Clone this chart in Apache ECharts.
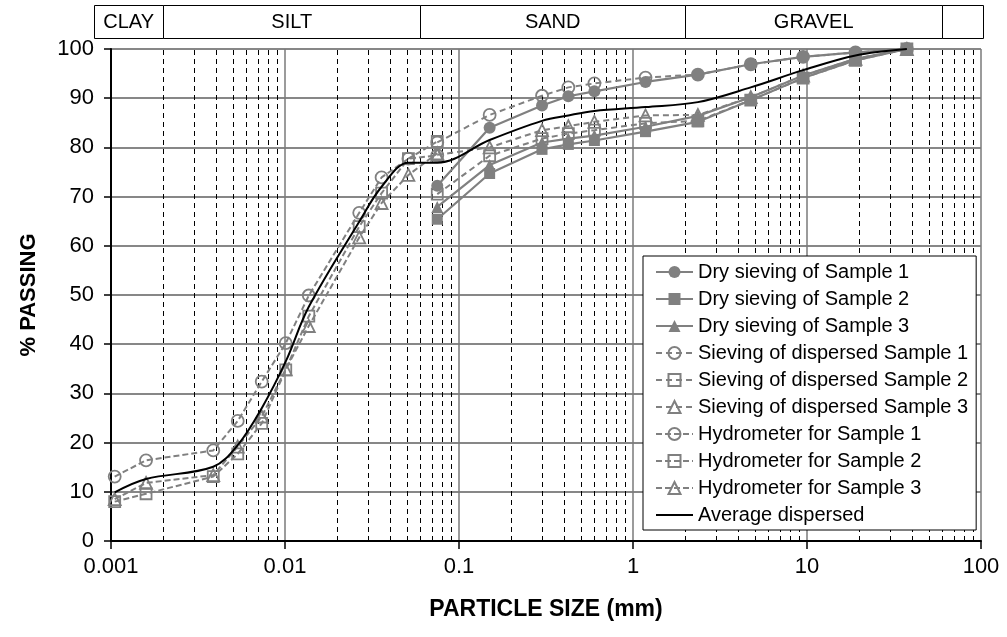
<!DOCTYPE html>
<html>
<head>
<meta charset="utf-8">
<script src="https://cdn.jsdelivr.net/npm/echarts@6/dist/echarts.min.js"></script>
<style>
  html, body { margin: 0; padding: 0; background: #fff; }
  #chart { width: 1007px; height: 637px; }
</style>
</head>
<body>
<div id="chart"></div>
<script>
// Sieve openings (mm) for dry and dispersed sieving
const sieveSizes = [0.075, 0.15, 0.3, 0.425, 0.6, 1.18, 2.36, 4.75, 9.5, 19, 37.5];
const drySample1 = [72.2, 84.0, 88.5, 90.4, 91.4, 93.3, 94.8, 96.9, 98.4, 99.3, 100];
const drySample2 = [65.4, 74.7, 79.6, 80.6, 81.4, 83.2, 85.2, 89.6, 94.1, 97.7, 100];
const drySample3 = [67.9, 76.4, 81.0, 81.8, 82.4, 84.2, 86.4, 90.2, 94.6, 98.0, 100];
const dispSample1 = [81.0, 86.6, 90.5, 92.2, 93.0, 94.2, 94.8, 96.9, 98.4, 99.3, 100];
const dispSample2 = [70.5, 78.3, 81.8, 82.8, 83.5, 84.9, 85.4, 89.6, 94.1, 97.7, 100];
const dispSample3 = [78.5, 80.0, 83.5, 84.3, 85.2, 86.5, 86.6, 90.2, 94.6, 98.0, 100];

// Hydrometer equivalent diameters (mm)
const hydroSizes = [0.00105, 0.00159, 0.00387, 0.00535, 0.00735, 0.0101, 0.0137, 0.0267, 0.0359, 0.0512, 0.075];
const hydroSample1 = [13.1, 16.4, 18.4, 24.4, 32.4, 40.2, 49.9, 66.7, 73.9, 77.7, 78.4];
const hydroSample2 = [8.0, 9.6, 13.1, 17.7, 23.9, 34.8, 45.7, 63.9, 70.7, 77.7, 81.2];
const hydroSample3 = [8.5, 11.8, 13.4, 19.2, 25.3, 34.9, 43.7, 61.7, 68.7, 74.4, 78.8];

// Average grading curve of the dispersed tests
const avgSizes = [0.00105, 0.00159, 0.00387, 0.00535, 0.00735, 0.0101, 0.0137, 0.0267, 0.0359, 0.0512,
                  0.075, 0.15, 0.3, 0.425, 0.6, 1.18, 2.36, 4.75, 9.5, 19, 37.5];
const avgDispersed = [9.9, 12.6, 15.1, 19.5, 27.0, 36.5, 47.6, 64.9, 72.0, 76.9,
                      76.9, 81.5, 85.4, 86.5, 87.4, 88.2, 89.2, 92.2, 95.7, 98.7, 100];

// Axis labels
const xTickLabels = ['0.001', '0.01', '0.1', '1', '10', '100'];
const yTickLabels = ['0', '10', '20', '30', '40', '50', '60', '70', '80', '90', '100'];

// Soil classes along the size axis (boundaries in mm)
const classNames = ['CLAY', 'SILT', 'SAND', 'GRAVEL', ''];
const classEdges = [0.0008, 0.002, 0.06, 2, 60, 103];

// Intermediate log gridlines: 2..9 within each decade
const decades = [0.001, 0.01, 0.1, 1, 10];
const decadeSteps = [2, 3, 4, 5, 6, 7, 8, 9];

const FONT = '"Liberation Sans", Arial, Helvetica, sans-serif';
const GREY = '#808080';
const pairs = (xs, ys) => ys.map((y, i) => [xs[i], y]);

const minorGrid = [];
decades.forEach(d => decadeSteps.forEach(m => minorGrid.push([+(d * m).toPrecision(3), 0, 100])));

function drySeries(name, values, symbol, size) {
  return {
    name, type: 'line', xAxisIndex: 0, yAxisIndex: 0,
    data: pairs(sieveSizes, values),
    symbol, symbolSize: size, clip: false, z: 3,
    lineStyle: { color: GREY, width: 2.2, type: 'solid' },
    itemStyle: { color: GREY, borderColor: GREY, borderWidth: 0 }
  };
}
function hollowSeries(name, xs, values, symbol, size, dash) {
  return {
    name, type: 'line', xAxisIndex: 0, yAxisIndex: 0,
    data: pairs(xs, values),
    symbol, symbolSize: size, clip: false, z: 4,
    lineStyle: { color: GREY, width: 2, type: dash },
    itemStyle: { color: 'rgba(255,255,255,0)', borderColor: GREY, borderWidth: 1.8 }
  };
}

const chart = echarts.init(document.getElementById('chart'));
chart.setOption({
  animation: false,
  backgroundColor: '#fff',
  textStyle: { fontFamily: FONT },
  grid: [
    { left: 111, right: 26, top: 49, bottom: 96, containLabel: false },
    { left: 94, right: 24, top: 5, height: 33, containLabel: false }
  ],
  xAxis: [
    {
      type: 'log', logBase: 10, min: 0.001, max: 100, gridIndex: 0,
      name: 'PARTICLE SIZE (mm)', nameLocation: 'middle', nameGap: 57,
      nameTextStyle: { fontFamily: FONT, fontSize: 23, fontWeight: 'bold', color: '#000' },
      axisLine: { show: true, onZero: false, lineStyle: { color: '#000', width: 2 } },
      axisTick: { show: true, inside: false, length: 8, lineStyle: { color: '#000', width: 1.5 } },
      axisLabel: {
        fontFamily: FONT, fontSize: 22, color: '#000', margin: 15,
        formatter: v => xTickLabels[Math.round(Math.log10(v)) + 3]
      },
      splitLine: { show: true, lineStyle: { color: '#7a7a7a', width: 1.5 } },
      minorTick: { show: false }, minorSplitLine: { show: false }
    },
    {
      type: 'log', logBase: 10, min: classEdges[0], max: classEdges[classEdges.length - 1],
      gridIndex: 1, show: false
    }
  ],
  yAxis: [
    {
      type: 'value', min: 0, max: 100, interval: 10, gridIndex: 0,
      name: '% PASSING', nameLocation: 'middle', nameGap: 71,
      nameTextStyle: { fontFamily: FONT, fontSize: 22, fontWeight: 'bold', color: '#000' },
      axisLine: { show: true, lineStyle: { color: '#000', width: 2 } },
      axisTick: { show: true, inside: false, length: 7, lineStyle: { color: '#000', width: 1.5 } },
      axisLabel: {
        fontFamily: FONT, fontSize: 22, color: '#000', margin: 17,
        formatter: v => yTickLabels[Math.round(v / 10)]
      },
      splitLine: { show: true, lineStyle: { color: '#5f5f5f', width: 1.5 } }
    },
    { type: 'value', min: 0, max: 1, gridIndex: 1, show: false }
  ],
  legend: {
    orient: 'vertical', left: 643, top: 256,
    padding: [6, 8, 5, 12], itemWidth: 37, itemHeight: 15, itemGap: 7,
    backgroundColor: '#fff', borderColor: '#000', borderWidth: 1, borderRadius: 0,
    textStyle: { fontFamily: FONT, fontSize: 20, color: '#000' },
    data: [
      'Dry sieving of Sample 1', 'Dry sieving of Sample 2', 'Dry sieving of Sample 3',
      'Sieving of dispersed Sample 1', 'Sieving of dispersed Sample 2', 'Sieving of dispersed Sample 3',
      'Hydrometer for Sample 1', 'Hydrometer for Sample 2', 'Hydrometer for Sample 3',
      { name: 'Average dispersed', icon: 'path://M0,0L37,0L37,2L0,2Z' }
    ]
  },
  series: [
    {
      // dashed intermediate gridlines of the log axis
      type: 'custom', name: 'minor-grid', xAxisIndex: 0, yAxisIndex: 0, z: 1, silent: true,
      data: minorGrid,
      renderItem: (params, api) => {
        const p0 = api.coord([api.value(0), api.value(1)]);
        const p1 = api.coord([api.value(0), api.value(2)]);
        return {
          type: 'line',
          shape: { x1: Math.round(p0[0]) + 0.5, y1: p0[1], x2: Math.round(p1[0]) + 0.5, y2: p1[1] },
          style: { stroke: '#000', lineWidth: 1, lineDash: [5, 4] }
        };
      }
    },
    {
      // soil classification band above the plot
      type: 'custom', name: 'classes', xAxisIndex: 1, yAxisIndex: 1, silent: true,
      data: classNames.map((n, i) => [classEdges[i], classEdges[i + 1], n]),
      renderItem: (params, api) => {
        const a = api.coord([api.value(0), 1]);
        const b = api.coord([api.value(1), 0]);
        return {
          type: 'group',
          children: [
            {
              type: 'rect',
              shape: { x: Math.round(a[0]) + 0.5, y: Math.round(a[1]) + 0.5, width: Math.round(b[0] - a[0]), height: Math.round(b[1] - a[1]) },
              style: { fill: '#fff', stroke: '#000', lineWidth: 1 }
            },
            {
              type: 'text',
              x: (a[0] + b[0]) / 2, y: (a[1] + b[1]) / 2 + 1,
              style: {
                text: api.value(2), fill: '#000', fontFamily: FONT, fontSize: 20,
                align: 'center', verticalAlign: 'middle'
              }
            }
          ]
        };
      }
    },
    drySeries('Dry sieving of Sample 1', drySample1, 'circle', 12),
    drySeries('Dry sieving of Sample 2', drySample2, 'rect', 11),
    drySeries('Dry sieving of Sample 3', drySample3, 'triangle', 12),
    hollowSeries('Sieving of dispersed Sample 1', sieveSizes, dispSample1, 'circle', 12, [6, 4]),
    hollowSeries('Sieving of dispersed Sample 2', sieveSizes, dispSample2, 'rect', 11, [6, 4]),
    hollowSeries('Sieving of dispersed Sample 3', sieveSizes, dispSample3, 'triangle', 12, [6, 4]),
    hollowSeries('Hydrometer for Sample 1', hydroSizes, hydroSample1, 'circle', 12, [6, 3]),
    hollowSeries('Hydrometer for Sample 2', hydroSizes, hydroSample2, 'rect', 11, [6, 3]),
    hollowSeries('Hydrometer for Sample 3', hydroSizes, hydroSample3, 'triangle', 12, [6, 3]),
    {
      name: 'Average dispersed', type: 'line', xAxisIndex: 0, yAxisIndex: 0,
      data: pairs(avgSizes, avgDispersed),
      smooth: 0.35, symbol: 'none', clip: false, z: 5,
      lineStyle: { color: '#000', width: 2 },
      itemStyle: { color: '#000' }
    }
  ]
});
</script>
</body>
</html>
